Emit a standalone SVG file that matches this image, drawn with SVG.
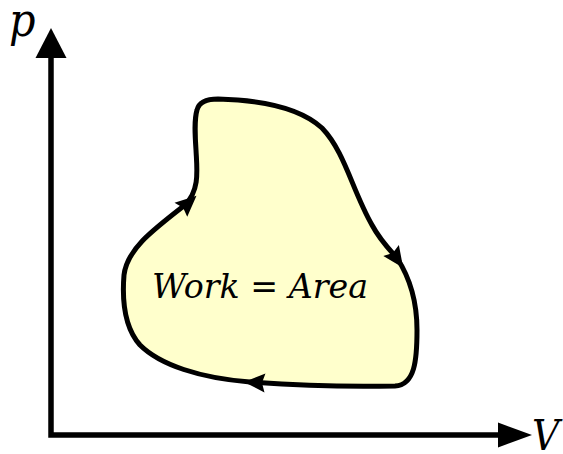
<svg xmlns="http://www.w3.org/2000/svg" width="563" height="454" viewBox="0 0 563 454">
<style>
.ax{stroke:#000;stroke-width:5.5;fill:none}
.loop{fill:#FFFFCC;stroke:#000;stroke-width:5;stroke-linejoin:round}
.lbl{font-family:"DejaVu Serif Condensed","DejaVu Serif",serif;font-style:italic;fill:#000}
</style>
<defs>
<path id="ah" d="M2,0 L-19,-9.5 L-16,0 L-19,9.5 Z" fill="#000"/>
</defs>
<rect width="563" height="454" fill="#fff"/>
<g id="axes">
<path class="ax" d="M51,58 L51,435 L500,435"/>
<path d="M51,28 L35.5,58 L66.5,58 Z" fill="#000"/>
<path d="M532,435 L498,422.5 L498,447.5 Z" fill="#000"/>
</g>
<g id="cycle">
<path class="loop" d="M197,110 C199,102 206,99 218,99 C258,100 298,106 322,128 C345,152 352,190 372,225 C380,240 388,248 397,258 C410,278 417,300 417,330 C417,360 415,385 395,386 C350,387 290,385 250,382 C200,378 160,365 140,345 C125,328 122,300 124,275 C127,250 150,232 185,205 C200,190 197,170 196,150 C195,135 194,120 197,110 Z"/>
<use href="#ah" transform="translate(195,197) rotate(-42)"/>
<use href="#ah" transform="translate(402,266) rotate(55)"/>
<use href="#ah" transform="translate(246,382) rotate(183)"/>
</g>
<g id="labels">
<text class="lbl" x="9" y="36" font-size="46">p</text>
<text class="lbl" x="532" y="450" font-size="42">V</text>
<text class="lbl" x="152" y="298" font-size="33" textLength="216" lengthAdjust="spacingAndGlyphs">Work = Area</text>
</g>
</svg>
